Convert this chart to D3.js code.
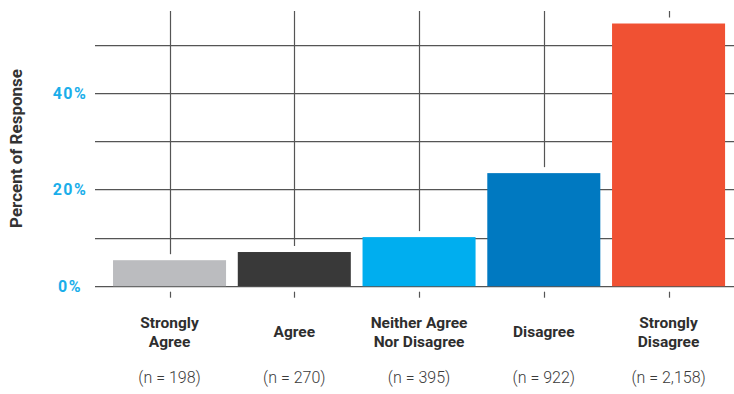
<!DOCTYPE html>
<html><head><meta charset="utf-8">
<script src="https://cdn.jsdelivr.net/npm/d3@7"></script>
<style>body{margin:0;background:#fff;}svg{display:block;}</style>
</head><body>
<svg id="c" width="734" height="394"></svg>
<script>
const categories = [["Strongly","Agree"],["Agree"],["Neither Agree","Nor Disagree"],["Disagree"],["Strongly","Disagree"]];
const counts = ["(n = 198)","(n = 270)","(n = 395)","(n = 922)","(n = 2,158)"];
const values = [5.3, 7.0, 10.1, 23.4, 54.5];
const colors = ["#bbbcbf","#393939","#00aeef","#0079c1","#f05133"];
const gridTicks = [0,10,20,30,40,50];
const labelTicks = [0,20,40];

const svg = d3.select("#c");
const y = d3.scaleLinear().domain([0,57.1]).range([285.7,11]);
const x = d3.scaleBand().domain(d3.range(categories.length)).range([101.3,736.8]).paddingInner(0.094).paddingOuter(0.094);
const cx = i => x(i) + x.bandwidth()/2;

// horizontal grid
const g = svg.append("g");
gridTicks.forEach(t => {
  const yy = Math.round(y(t));
  g.append("line").attr("x1",95).attr("x2",734).attr("y1",yy+1.5).attr("y2",yy+1.5).attr("stroke","#d4d4d4").attr("stroke-width",1);
  g.append("line").attr("x1",95).attr("x2",734).attr("y1",yy+0.5).attr("y2",yy+0.5).attr("stroke","#555").attr("stroke-width",1);
});
// vertical grid
values.forEach((v,i) => {
  const xx = Math.round(cx(i))+0.5;
  g.append("line").attr("x1",xx).attr("x2",xx).attr("y1",y.range()[1]).attr("y2",y(v)-6).attr("stroke","#555").attr("stroke-width",1.2);
  g.append("line").attr("x1",xx).attr("x2",xx).attr("y1",y(0)+6).attr("y2",y(0)+12).attr("stroke","#555").attr("stroke-width",1.2);
});
// bars
svg.append("g").selectAll("rect").data(values).join("rect")
  .attr("x",(d,i)=>x(i)).attr("width",x.bandwidth())
  .attr("y",d=>y(d)).attr("height",d=>y(0)-y(d)+0.5)
  .attr("fill",(d,i)=>colors[i]);

// y labels
svg.append("g").selectAll("text").data(labelTicks).join("text")
  .attr("x",70).attr("y",d=>y(d)+6).attr("text-anchor","middle")
  .attr("font-family","Roboto, sans-serif").attr("font-weight","bold").attr("font-size",16)
  .attr("letter-spacing","1.5px").attr("fill","#1aaeea").text(d=>d+"%");

svg.append("text").attr("transform","translate(22,148.5) rotate(-90)").attr("text-anchor","middle")
  .attr("font-family","Roboto, sans-serif").attr("font-weight","bold").attr("font-size",17)
  .attr("fill","#333").text("Percent of Response");

// category labels
categories.forEach((lines,i) => {
  const t = svg.append("text").attr("text-anchor","middle").attr("font-family","Roboto, sans-serif")
    .attr("font-weight","bold").attr("font-size",15.5).attr("fill","#2e2e2e");
  const base = lines.length === 2 ? 328 : 337;
  lines.forEach((l,j) => t.append("tspan").attr("x",cx(i)).attr("y",base + j*19).text(l));
  svg.append("text").attr("x",cx(i)).attr("y",383).attr("text-anchor","middle")
    .attr("font-family","Roboto, sans-serif").attr("font-weight",300).attr("font-size",16)
    .attr("fill","#3a3a3a").text(counts[i]);
});
</script>
</body></html>
